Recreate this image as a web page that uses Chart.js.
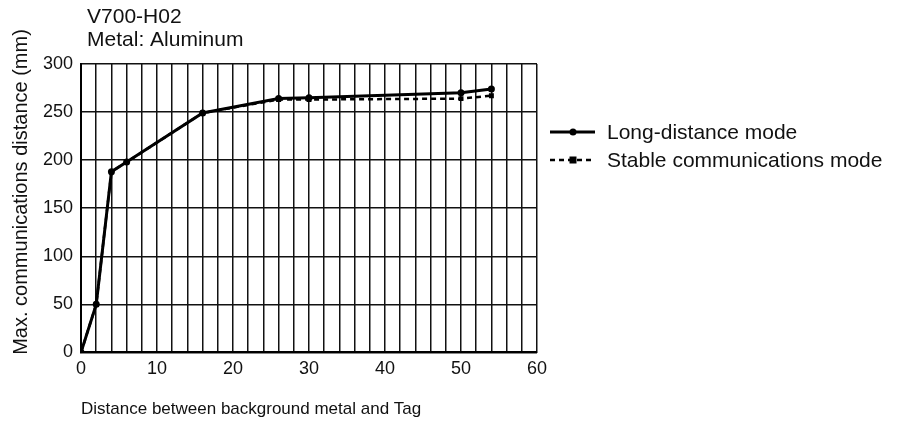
<!DOCTYPE html>
<html>
<head>
<meta charset="utf-8">
<script src="https://cdn.jsdelivr.net/npm/chart.js@4.4.1/dist/chart.umd.min.js"></script>
<style>
    html, body { margin: 0; padding: 0; background: #fff; }
    #wrap { width: 900px; height: 425px; position: relative; }
</style>
</head>
<body>
<div id="wrap"><canvas id="distChart"></canvas></div>
<script>
// Data
const tagDistance = [0, 2, 4, 6, 16, 26, 30, 50, 54];
const longDistanceMode = [0, 50, 188, 198, 249, 264, 265, 270, 274];
const stableCommMode = [0, 50, 188, 198, 249, 263, 263, 264, 267];
const seriesLabels = ['Long-distance mode', 'Stable communications mode'];
const titleLines = ['V700-H02', 'Metal: Aluminum'];
const xTickLabels = [0, 10, 20, 30, 40, 50, 60];
const yTickLabels = [0, 50, 100, 150, 200, 250, 300];
const xAxisTitle = 'Distance between background metal and Tag';
const yAxisTitle = 'Max. communications distance (mm)';

const FONT = "'Liberation Sans', Arial, Helvetica, sans-serif";
const INK = '#111';

function toPoints(xs, ys) {
    return xs.map(function (x, i) { return { x: x, y: ys[i] }; });
}

// Titles, axis titles and legend drawn by hand to match the reference layout
const annotations = {
    id: 'annotations',
    afterDraw: function (chart) {
        const ctx = chart.ctx;
        const area = chart.chartArea;
        ctx.save();
        ctx.fillStyle = INK;
        ctx.textBaseline = 'alphabetic';

        // Title block
        ctx.font = '21px ' + FONT;
        ctx.textAlign = 'left';
        titleLines.forEach(function (line, i) {
            ctx.fillText(line, area.left + 6, 23 + i * 23);
        });

        // X axis title
        ctx.font = '17px ' + FONT;
        ctx.fillText(xAxisTitle, area.left, 414);

        // Y axis title
        ctx.font = '20px ' + FONT;
        ctx.save();
        ctx.translate(27, 192);
        ctx.rotate(-Math.PI / 2);
        ctx.textAlign = 'center';
        ctx.fillText(yAxisTitle, 0, 0);
        ctx.restore();

        // Legend
        ctx.font = '21px ' + FONT;
        chart.data.datasets.forEach(function (ds, i) {
            const y = 132 + i * 28;
            const x0 = 550, x1 = 595, xm = 573;
            ctx.strokeStyle = ds.borderColor;
            ctx.lineWidth = ds.borderWidth;
            ctx.setLineDash(ds.borderDash || []);
            ctx.beginPath();
            ctx.moveTo(x0, y);
            ctx.lineTo(x1, y);
            ctx.stroke();
            ctx.setLineDash([]);
            ctx.fillStyle = ds.pointBackgroundColor;
            if (ds.pointStyle === 'rect') {
                ctx.fillRect(xm - 3.5, y - 3.5, 7, 7);
            } else {
                ctx.beginPath();
                ctx.arc(xm, y, 3.5, 0, Math.PI * 2);
                ctx.fill();
            }
            ctx.fillStyle = INK;
            ctx.textAlign = 'left';
            ctx.textBaseline = 'middle';
            ctx.fillText(ds.label, 607, y + 1);
        });
        ctx.restore();
    }
};

document.addEventListener('DOMContentLoaded', function () {
    const ctx = document.getElementById('distChart');
    new Chart(ctx, {
        type: 'scatter',
        data: {
            datasets: [{
                label: seriesLabels[0],
                data: toPoints(tagDistance, longDistanceMode),
                showLine: true,
                borderColor: '#000',
                borderWidth: 3,
                pointStyle: 'circle',
                pointRadius: 3.5,
                pointBackgroundColor: '#000',
                pointBorderWidth: 0
            }, {
                label: seriesLabels[1],
                data: toPoints(tagDistance, stableCommMode),
                showLine: true,
                borderColor: '#000',
                borderWidth: 2.5,
                borderDash: [5, 4],
                pointStyle: 'rect',
                pointRadius: 3.5,
                pointBackgroundColor: '#000',
                pointBorderWidth: 0
            }]
        },
        options: {
            responsive: true,
            maintainAspectRatio: false,
            animation: false,
            layout: {
                padding: { left: 35, right: 363, top: 64, bottom: 39 }
            },
            plugins: {
                legend: { display: false },
                tooltip: { enabled: false }
            },
            scales: {
                x: {
                    type: 'linear',
                    min: xTickLabels[0],
                    max: xTickLabels[xTickLabels.length - 1],
                    ticks: {
                        stepSize: 2,
                        autoSkip: false,
                        maxRotation: 0,
                        padding: 6,
                        color: INK,
                        font: { size: 18, family: FONT },
                        callback: function (value) {
                            return xTickLabels.includes(value) ? value : '';
                        }
                    },
                    grid: { color: '#111', lineWidth: 1.5, drawTicks: false },
                    border: { color: '#000', width: 2 }
                },
                y: {
                    min: yTickLabels[0],
                    max: yTickLabels[yTickLabels.length - 1],
                    ticks: {
                        stepSize: 50,
                        padding: 8,
                        color: INK,
                        font: { size: 18, family: FONT },
                        callback: function (value) {
                            return yTickLabels.includes(value) ? value : '';
                        }
                    },
                    grid: { color: '#111', lineWidth: 1.5, drawTicks: false },
                    border: { color: '#000', width: 2 }
                }
            }
        },
        plugins: [annotations]
    });
});
</script>
</body>
</html>
